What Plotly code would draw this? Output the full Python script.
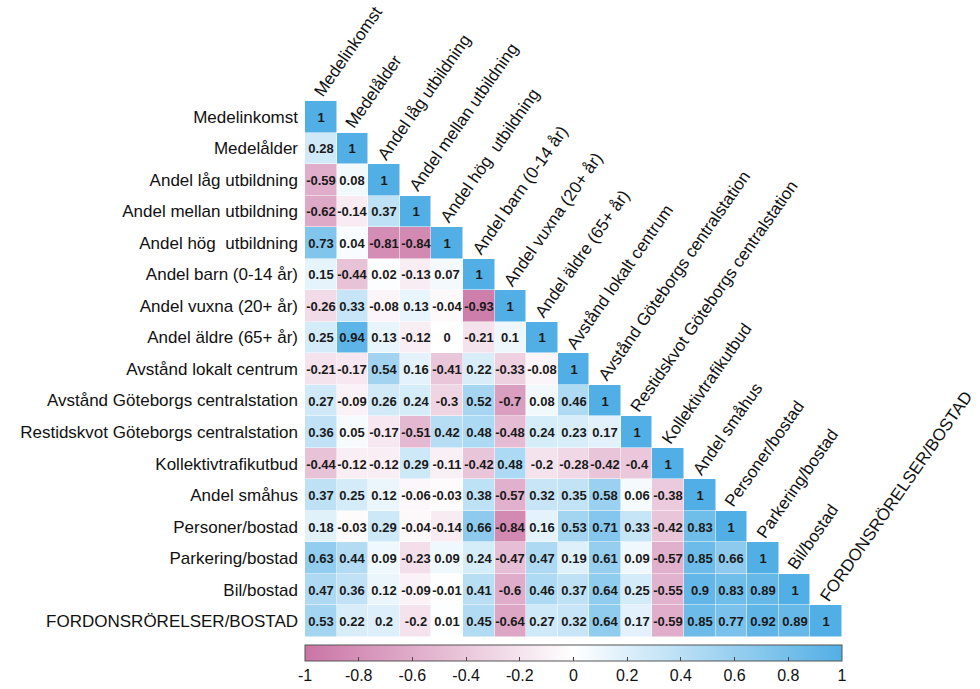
import plotly.graph_objects as go

# Variables (rows top-to-bottom, columns left-to-right)
variables = [
    "Medelinkomst",
    "Medelålder",
    "Andel låg utbildning",
    "Andel mellan utbildning",
    "Andel hög  utbildning",
    "Andel barn (0-14 år)",
    "Andel vuxna (20+ år)",
    "Andel äldre (65+ år)",
    "Avstånd lokalt centrum",
    "Avstånd Göteborgs centralstation",
    "Restidskvot Göteborgs centralstation",
    "Kollektivtrafikutbud",
    "Andel småhus",
    "Personer/bostad",
    "Parkering/bostad",
    "Bil/bostad",
    "FORDONSRÖRELSER/BOSTAD",
]

# Lower-triangle correlation coefficients, one list per row
r_medelinkomst = [1]
r_medelalder = [0.28, 1]
r_lag_utb = [-0.59, 0.08, 1]
r_mellan_utb = [-0.62, -0.14, 0.37, 1]
r_hog_utb = [0.73, 0.04, -0.81, -0.84, 1]
r_barn = [0.15, -0.44, 0.02, -0.13, 0.07, 1]
r_vuxna = [-0.26, 0.33, -0.08, 0.13, -0.04, -0.93, 1]
r_aldre = [0.25, 0.94, 0.13, -0.12, 0, -0.21, 0.1, 1]
r_avst_lokalt = [-0.21, -0.17, 0.54, 0.16, -0.41, 0.22, -0.33, -0.08, 1]
r_avst_cst = [0.27, -0.09, 0.26, 0.24, -0.3, 0.52, -0.7, 0.08, 0.46, 1]
r_restidskvot = [0.36, 0.05, -0.17, -0.51, 0.42, 0.48, -0.48, 0.24, 0.23, 0.17, 1]
r_kollektiv = [-0.44, -0.12, -0.12, 0.29, -0.11, -0.42, 0.48, -0.2, -0.28, -0.42, -0.4, 1]
r_smahus = [0.37, 0.25, 0.12, -0.06, -0.03, 0.38, -0.57, 0.32, 0.35, 0.58, 0.06, -0.38, 1]
r_personer = [0.18, -0.03, 0.29, -0.04, -0.14, 0.66, -0.84, 0.16, 0.53, 0.71, 0.33, -0.42, 0.83, 1]
r_parkering = [0.63, 0.44, 0.09, -0.23, 0.09, 0.24, -0.47, 0.47, 0.19, 0.61, 0.09, -0.57, 0.85, 0.66, 1]
r_bil = [0.47, 0.36, 0.12, -0.09, -0.01, 0.41, -0.6, 0.46, 0.37, 0.64, 0.25, -0.55, 0.9, 0.83, 0.89, 1]
r_fordon = [0.53, 0.22, 0.2, -0.2, 0.01, 0.45, -0.64, 0.27, 0.32, 0.64, 0.17, -0.59, 0.85, 0.77, 0.92, 0.89, 1]

rows = [
    r_medelinkomst, r_medelalder, r_lag_utb, r_mellan_utb, r_hog_utb, r_barn,
    r_vuxna, r_aldre, r_avst_lokalt, r_avst_cst, r_restidskvot, r_kollektiv,
    r_smahus, r_personer, r_parkering, r_bil, r_fordon,
]

colorbar_ticks = [-1, -0.8, -0.6, -0.4, -0.2, 0, 0.2, 0.4, 0.6, 0.8, 1]
colorbar_ticktext = ["-1", "-0.8", "-0.6", "-0.4", "-0.2", "0", "0.2", "0.4", "0.6", "0.8", "1"]

n = len(variables)
z = [[row[j] if j < len(row) else None for j in range(n)] for row in rows]
text = [[(f"{row[j]:g}" if j < len(row) else "") for j in range(n)] for row in rows]

FONT = "Liberation Sans, Arial, sans-serif"

fig = go.Figure(
    go.Heatmap(
        z=z,
        x=list(range(n)),
        y=list(range(n)),
        text=text,
        texttemplate="%{text}",
        textfont=dict(family=FONT, size=13, color="#1a1a1a", weight="bold"),
        zmin=-1,
        zmax=1,
        colorscale=[[0.0, "#CA74A5"], [0.5, "#FFFFFF"], [1.0, "#52AFE5"]],
        xgap=0.5,
        ygap=0.5,
        hoverongaps=False,
        colorbar=dict(
            orientation="h",
            lenmode="pixels",
            len=537,
            thickness=16,
            x=0,
            xanchor="left",
            y=-0.015,
            yanchor="top",
            xpad=0,
            ypad=0,
            outlinecolor="#555555",
            outlinewidth=1,
            tickvals=colorbar_ticks,
            ticktext=colorbar_ticktext,
            ticks="inside",
            ticklen=4,
            tickcolor="#444444",
            tickfont=dict(family=FONT, size=16, color="#111111"),
        ),
    )
)

# Rotated column labels sitting on top of each diagonal cell
for j, name in enumerate(variables):
    fig.add_annotation(
        x=j,
        y=j - 0.5,
        xref="x",
        yref="y",
        text=name,
        showarrow=False,
        textangle=-55,
        xanchor="left",
        yanchor="bottom",
        xshift=-13,
        yshift=-2,
        font=dict(family=FONT, size=17, color="#111111"),
    )

fig.update_xaxes(
    range=[-0.5, n - 0.5],
    showticklabels=False,
    showgrid=False,
    zeroline=False,
    ticks="",
)
fig.update_yaxes(
    range=[n - 0.5, -0.5],
    tickvals=list(range(n)),
    ticktext=variables,
    showgrid=False,
    zeroline=False,
    ticks="",
    ticklabelstandoff=6,
    tickfont=dict(family=FONT, size=17, color="#111111"),
)

fig.update_layout(
    width=980,
    height=689,
    margin=dict(l=305, r=138, t=101, b=52, autoexpand=False),
    paper_bgcolor="white",
    plot_bgcolor="white",
)

fig.write_html("out.html")
